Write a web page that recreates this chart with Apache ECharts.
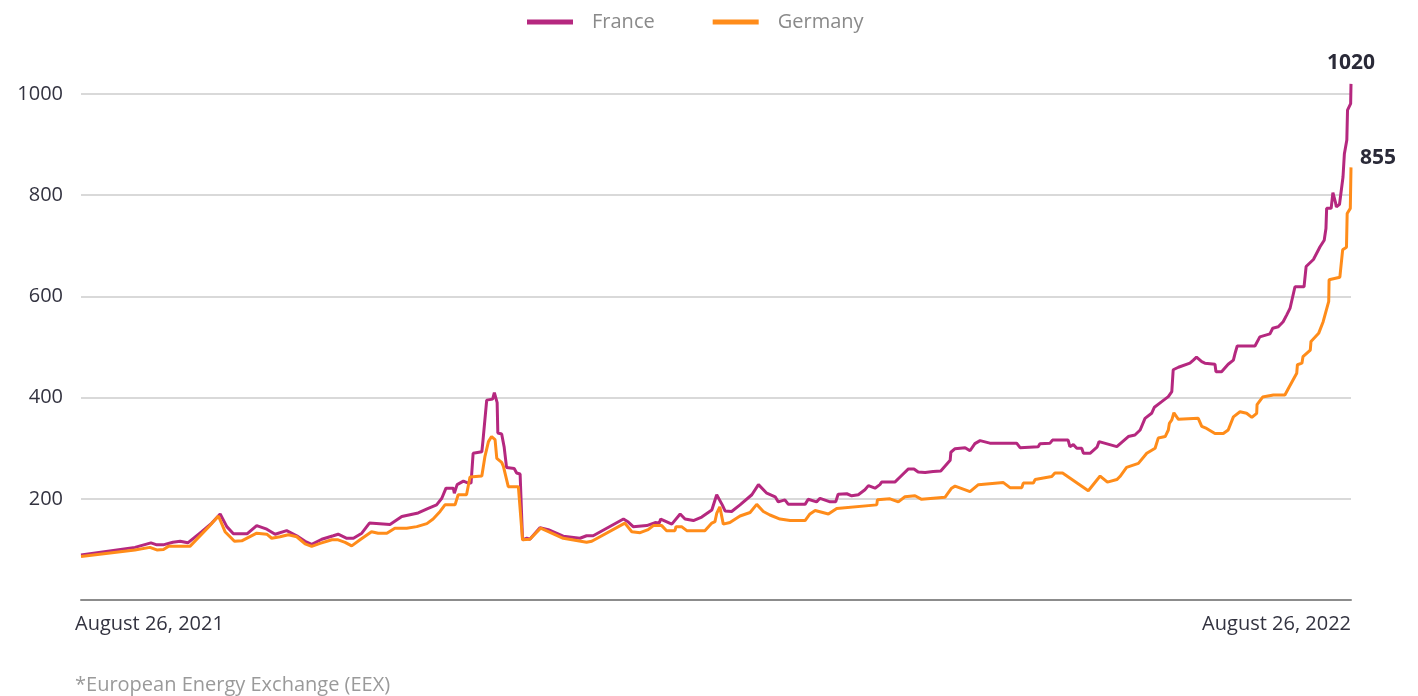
<!DOCTYPE html>
<html>
<head>
    <meta charset="UTF-8">
    <title>France / Germany</title>
    <script src="https://cdn.jsdelivr.net/npm/echarts@6/dist/echarts.min.js"></script>
    <style>
        html, body { margin: 0; padding: 0; background: #fff; }
        #main { width: 1418px; height: 696px; }
    </style>
</head>
<body>
<div id="main"></div>
<script type="text/javascript">
    // days counted from August 26, 2021
    var franceDays = [0, 15.5, 20.1, 21.8, 23.6, 26.4, 28.5, 30.7, 34.7, 37.6, 40.0, 41.9, 43.8, 47.8, 50.5, 53.4, 55.8, 59.1, 62.0, 64.4,
        66.3, 69.2, 72.5, 73.9, 76.4, 78.3, 80.7, 82.9, 88.8, 92.2, 96.9, 99.8, 102.2, 103.7, 104.9, 107.0, 107.3, 108.1, 109.9, 111.3,
        112.1, 112.7, 115.2, 115.5, 116.6, 118.3, 118.8, 119.6, 119.8, 120.9, 121.6, 122.3, 124.5, 125.2, 126.2, 126.9, 128.1, 129.0, 131.9, 134.3,
        138.6, 143.4, 145.3, 147.2, 155.9, 157.3, 158.7, 162.6, 165.0, 166.2, 166.6, 169.8, 172.2, 173.6, 176.0, 178.4, 181.3, 182.7, 184.3, 185.1,
        187.0, 189.4, 192.8, 194.7, 197.1, 199.5, 200.4, 202.3, 203.3, 208.1, 209.0, 211.4, 212.4, 215.3, 216.9, 217.6, 220.1, 221.5, 223.4, 225.3,
        226.3, 228.2, 229.6, 230.1, 233.9, 235.4, 237.8, 239.4, 240.6, 242.6, 244.9, 247.1, 249.8, 250.0, 251.2, 254.1, 255.5, 256.9, 258.4, 261.2,
        268.9, 269.9, 275.1, 275.6, 278.5, 279.2, 283.7, 284.2, 285.2, 286.2, 287.6, 288.1, 290.0, 292.0, 292.6, 297.7, 301.0, 302.9, 304.4, 305.8,
        307.7, 308.5, 310.6, 312.5, 313.5, 313.9, 315.4, 318.7, 319.7, 320.6, 322.1, 323.0, 323.5, 325.9, 326.2, 327.8, 329.7, 331.2, 331.7, 332.3,
        337.4, 338.8, 341.7, 342.5, 344.1, 345.5, 346.5, 347.5, 348.9, 351.5, 352.1, 354.2, 356.1, 357.3, 357.8, 358.0, 359.3, 359.8, 360.5, 360.8,
        361.7, 362.7, 363.1, 363.8, 364.0, 364.9, 365];
    var franceValues = [89, 104, 113, 109, 109, 114, 116, 113, 135, 152, 170, 145, 131, 131, 147, 140, 130, 137, 127, 116,
        110, 120, 127, 130, 122, 122, 132, 152, 149, 165, 172, 181, 188, 201, 221, 221, 211, 228, 235, 231,
        231, 290, 293, 313, 395, 397, 410, 390, 330, 328, 303, 262, 260, 251, 249, 119, 122, 120, 143, 139,
        126, 122, 127, 127, 160, 154, 145, 147, 153, 152, 160, 150, 170, 160, 157, 164, 178, 208, 188, 176,
        175, 188, 208, 228, 211, 204, 194, 198, 189, 189, 199, 194, 201, 194, 194, 209, 210, 206, 208, 218,
        226, 221, 228, 233, 233, 243, 259, 259, 253, 252, 254, 255, 276, 292, 299, 301, 295, 309, 315, 310,
        310, 301, 303, 309, 310, 316, 316, 303, 307, 300, 300, 290, 290, 302, 313, 303, 323, 326, 336, 359,
        369, 381, 392, 402, 412, 455, 460, 468, 474, 480, 471, 468, 465, 466, 451, 451, 466, 474, 488, 502,
        502, 520, 526, 537, 540, 550, 563, 577, 619, 619, 659, 673, 698, 711, 734, 774, 774, 805, 787, 777,
        782, 836, 882, 909, 968, 981, 1020];

    var germanyDays = [0, 15.5, 19.8, 21.8, 23.7, 25.1, 31.3, 36.6, 39.5, 41.4, 44.1, 46.2, 50.5, 53.4, 54.8, 57.2, 59.6, 62.0, 64.4, 66.3,
        68.7, 72.1, 73.9, 75.9, 77.8, 80.2, 83.5, 85.4, 87.9, 90.2, 93.6, 96.5, 99.4, 101.2, 103.2, 104.6, 107.5, 108.4, 110.8, 111.8,
        115.2, 116.1, 117.1, 118.0, 119.0, 119.5, 120.9, 121.4, 122.8, 125.7, 126.9, 129.0, 132.1, 138.6, 145.3, 146.8, 156.3, 158.3, 160.7, 163.0,
        164.5, 166.9, 168.3, 170.7, 171.0, 172.6, 174.1, 179.3, 181.3, 182.2, 182.7, 183.6, 184.6, 186.5, 189.4, 192.3, 194.2, 196.1, 198.0, 200.9,
        203.8, 208.1, 209.5, 211.0, 214.8, 217.2, 228.7, 228.9, 232.5, 234.9, 236.8, 239.7, 241.6, 248.3, 250.2, 251.2, 255.5, 257.9, 265.1, 267.0,
        270.4, 270.8, 273.7, 274.2, 276.6, 277.1, 279.0, 279.9, 282.1, 289.5, 292.9, 295.0, 297.7, 298.6, 300.5, 303.9, 306.3, 308.7, 309.6, 311.6,
        312.5, 312.8, 313.5, 314.1, 315.4, 321.1, 322.1, 323.5, 325.9, 328.3, 329.7, 331.2, 333.1, 335.0, 336.5, 337.9, 338.0, 339.6, 342.7, 346.0,
        347.0, 349.4, 349.6, 350.9, 351.2, 353.3, 353.5, 355.7, 357.0, 358.6, 358.7, 361.8, 362.6, 363.7, 363.9, 364.8, 365];
    var germanyValues = [86, 99, 104, 99, 100, 106, 106, 144, 166, 135, 116, 117, 132, 130, 122, 125, 129, 125, 111, 106,
        112, 119, 119, 114, 107, 119, 135, 132, 132, 142, 142, 145, 151, 160, 175, 188, 188, 208, 208, 243,
        245, 284, 313, 323, 317, 280, 272, 264, 224, 224, 119, 120, 142, 122, 114, 116, 152, 135, 133, 139,
        147, 147, 137, 137, 145, 145, 137, 137, 152, 155, 171, 184, 150, 153, 166, 173, 189, 175, 168, 160,
        157, 157, 170, 177, 170, 181, 188, 198, 200, 194, 204, 206, 199, 203, 221, 225, 214, 228, 232, 222,
        222, 231, 231, 238, 241, 244, 244, 251, 251, 216, 245, 233, 238, 244, 262, 270, 290, 300, 320, 323,
        336, 349, 356, 370, 357, 359, 343, 339, 329, 329, 336, 362, 372, 369, 361, 369, 386, 401, 405, 405,
        418, 448, 465, 468, 481, 494, 511, 527, 550, 590, 633, 638, 692, 697, 764, 774, 855];

    var seriesNames = ['France', 'Germany'];
    var seriesColors = ['#b5287f', '#ff8c1a'];
    var yTicks = [0, 200, 400, 600, 800, 1000];
    var xTickLabels = {0: 'August 26, 2021', 365: 'August 26, 2022'};
    var footnote = '*European Energy Exchange (EEX)';

    function pairs(days, values) {
        return days.map(function (d, i) {
            return [d, values[i]];
        });
    }

    var chartDom = document.getElementById('main');
    var myChart = echarts.init(chartDom);
    var option;

    option = {
        animation: false,
        textStyle: {
            fontFamily: 'Open Sans'
        },
        title: {
            text: footnote,
            left: 70,
            top: 670,
            textStyle: {
                fontSize: 20,
                fontWeight: 'normal',
                color: '#9a9a9a'
            }
        },
        legend: {
            top: 7,
            left: 522,
            icon: 'rect',
            itemWidth: 46,
            itemHeight: 5,
            itemGap: 58,
            textStyle: {
                fontSize: 20,
                color: '#8a8a8a',
                padding: [0, 0, 0, 14]
            },
            data: seriesNames
        },
        grid: {
            left: 81,
            right: 67,
            top: 94,
            bottom: 96
        },
        xAxis: {
            type: 'value',
            min: 0,
            max: 365,
            interval: 365,
            splitLine: {show: false},
            axisTick: {show: false},
            axisLine: {
                lineStyle: {color: '#8c8c8c', width: 2}
            },
            axisLabel: {
                margin: 14,
                fontSize: 20,
                color: '#333340',
                padding: [0, 0, 0, -6],
                alignMinLabel: 'left',
                alignMaxLabel: 'right',
                formatter: function (v) {
                    return xTickLabels[v] || '';
                }
            }
        },
        yAxis: {
            type: 'value',
            min: yTicks[0],
            max: yTicks[yTicks.length - 1],
            interval: 200,
            axisLine: {show: false},
            axisTick: {show: false},
            splitLine: {
                lineStyle: {color: '#cccccc', width: 1.5}
            },
            axisLabel: {
                margin: 18,
                fontSize: 20,
                color: '#333340',
                formatter: function (v) {
                    return v === 0 ? '' : String(v);
                }
            }
        },
        series: [
            {
                name: seriesNames[0],
                type: 'line',
                symbol: 'none',
                clip: false,
                color: seriesColors[0],
                lineStyle: {width: 3},
                data: pairs(franceDays, franceValues),
                endLabel: {
                    show: true,
                    distance: 0,
                    offset: [-24, -21],
                    fontSize: 21,
                    fontWeight: 'bold',
                    color: '#2a2a38',
                    formatter: function (p) {
                        return p.value[1];
                    }
                }
            },
            {
                name: seriesNames[1],
                type: 'line',
                symbol: 'none',
                clip: false,
                color: seriesColors[1],
                lineStyle: {width: 3},
                data: pairs(germanyDays, germanyValues),
                endLabel: {
                    show: true,
                    distance: 9,
                    offset: [0, -9],
                    fontSize: 21,
                    fontWeight: 'bold',
                    color: '#2a2a38',
                    formatter: function (p) {
                        return p.value[1];
                    }
                }
            }
        ]
    };

    option && myChart.setOption(option);
</script>
</body>
</html>
